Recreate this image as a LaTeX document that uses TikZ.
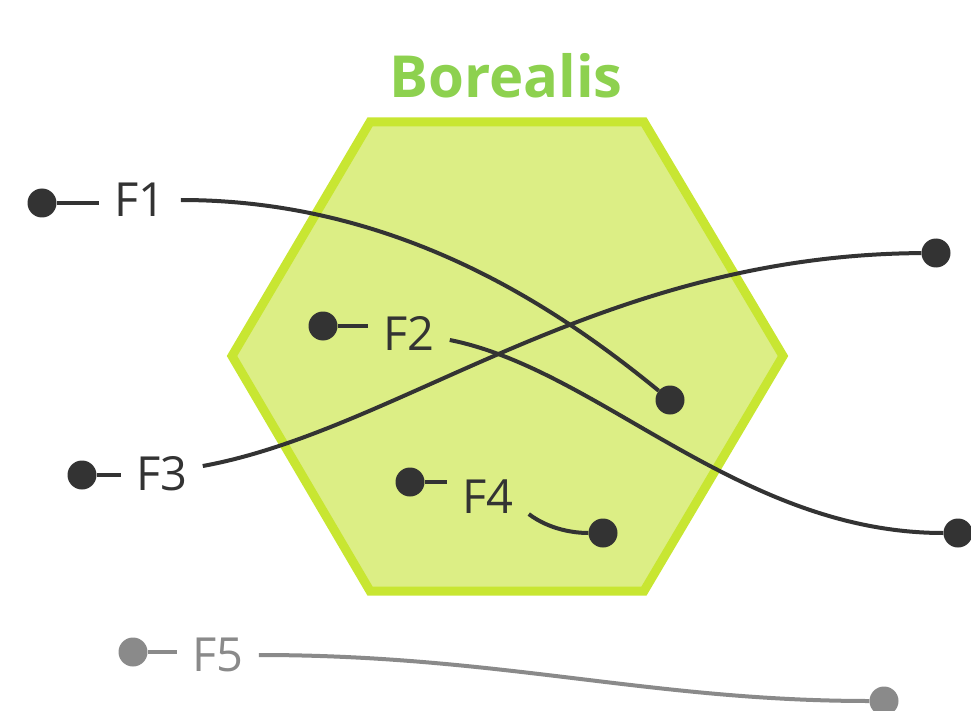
\documentclass[tikz,border=0pt]{standalone}
\usepackage{fontspec}
\setmainfont{Open Sans}
\usetikzlibrary{positioning}
\definecolor{ink}{HTML}{333333}
\definecolor{faded}{HTML}{8A8A8A}
\definecolor{hexfill}{HTML}{DCEE85}
\definecolor{hexedge}{HTML}{C8E632}
\definecolor{titlegreen}{HTML}{8DD14F}

\begin{document}
\begin{tikzpicture}[x=1pt, y=-1pt,
  dot/.style  = {circle, fill=ink, inner sep=0pt, minimum size=29pt},
  gdot/.style = {dot, fill=faded},
  flab/.style = {font=\fontsize{47}{47}\selectfont, text=ink, inner xsep=15pt, inner ysep=0pt},
  glab/.style = {flab, text=faded},
  wire/.style = {line width=4pt, ink},
  gwire/.style= {wire, faded},
  hexa/.style = {fill=hexfill, draw=hexedge, line width=9pt, line join=miter},
  title/.style= {font=\fontsize{58}{58}\selectfont\bfseries, text=titlegreen}
]
\useasboundingbox (0,0) rectangle (971,711);

% ================= Hexagon =================
\draw[hexa] (232,356) -- (370,122) -- (644,122) -- (783,356)
  -- (644,591) -- (370,591) -- cycle;
\node[title] (bor) at (506,76) {Borealis};

% ================= F1 =================
\node[dot]  (d1) at (42,203)  {};
\node[flab] (l1) at (140,200) {F1};
\node[dot]  (e1) at (670,400) {};
\draw[wire] (d1) -- (l1.west |- d1);
\draw[wire] (l1.east) .. controls (400,200) and (560,310) .. (e1);

% ================= F2 =================
\node[dot]  (d2) at (323,326) {};
\node[flab] (l2) at (409,333) {F2};
\node[dot]  (e2) at (958,533) {};
\draw[wire] (d2) -- (l2.west |- d2);
\draw[wire] ([yshift=-7pt]l2.east) .. controls (600,370) and (740,533) .. (e2);

% ================= F3 =================
\node[dot]  (d3) at (82,475)  {};
\node[flab] (l3) at (162,474) {F3};
\node[dot]  (e3) at (936,253) {};
\draw[wire] (d3) -- (l3.west |- d3);
\draw[wire] ([yshift=8pt]l3.east) .. controls (400,430) and (600,255) .. (e3);

% ================= F4 =================
\node[dot]  (d4) at (410,482) {};
\node[flab] (l4) at (488,497) {F4};
\node[dot]  (e4) at (603,533) {};
\draw[wire] (d4) -- (l4.west |- d4);
\draw[wire] (l4.south east) .. controls (550,530) and (575,533) .. (e4);

% ================= F5 =================
\node[gdot] (d5) at (133,652) {};
\node[glab] (l5) at (218,655) {F5};
\node[gdot] (e5) at (884,701) {};
\draw[gwire] (d5) -- (l5.west |- d5);
\draw[gwire] (l5.east) .. controls (500,655) and (650,701) .. (e5);

\end{tikzpicture}
\end{document}
